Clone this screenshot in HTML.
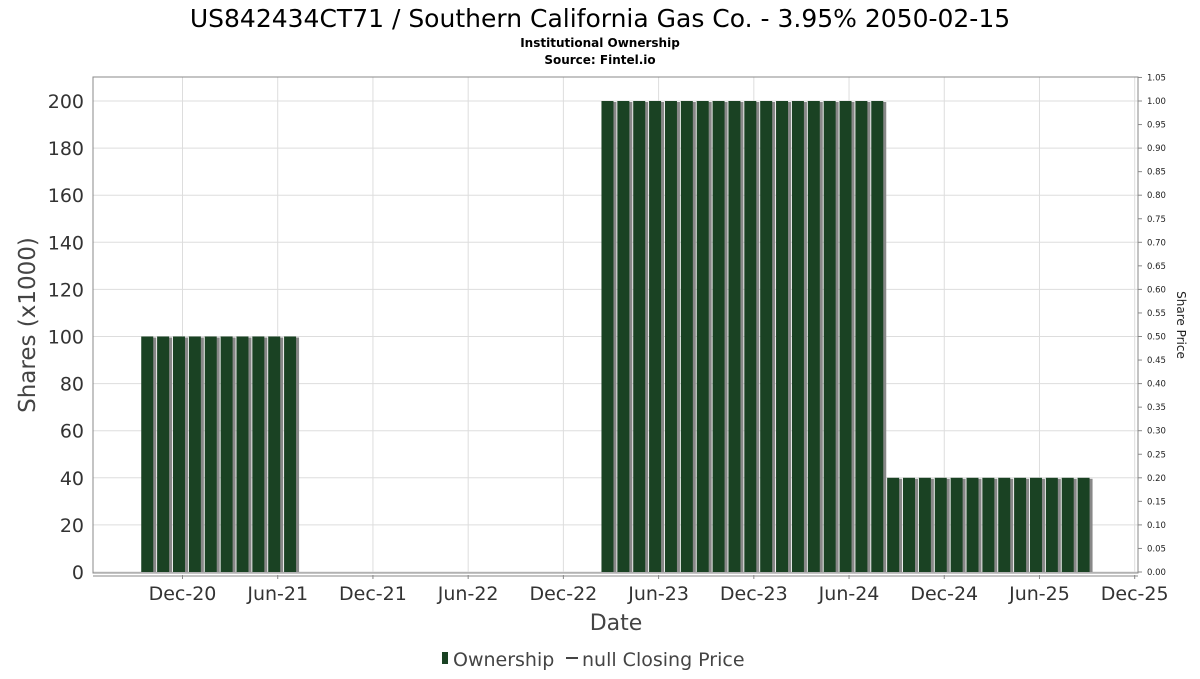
<!DOCTYPE html>
<html><head><meta charset="utf-8"><style>
body{margin:0;background:#fff;font-family:"DejaVu Sans","Liberation Sans",sans-serif}
</style></head><body>
<svg id="chart" width="1200" height="675" xmlns="http://www.w3.org/2000/svg" font-family="DejaVu Sans, Liberation Sans, sans-serif">
<text x="600" y="27" text-anchor="middle" font-size="25" fill="#000">US842434CT71 / Southern California Gas Co. - 3.95% 2050-02-15</text>
<text x="600" y="47" text-anchor="middle" font-size="12" font-weight="bold">Institutional Ownership</text>
<text x="600" y="64" text-anchor="middle" font-size="12" font-weight="bold">Source: Fintel.io</text>
<g id="grid"></g>
<rect x="93" y="77" width="1045" height="496" fill="none" stroke="#888"/>
<g id="bars"></g>
<g id="axes"></g>
<text transform="translate(35,325) rotate(-90)" text-anchor="middle" font-size="23" fill="#444">Shares (x1000)</text>
<text transform="translate(1177,325) rotate(90)" text-anchor="middle" font-size="12" fill="#222">Share Price</text>
<text x="616" y="630" text-anchor="middle" font-size="22" fill="#444">Date</text>
<g>
<rect x="442" y="652" width="6" height="12" fill="#1a4223"/>
<text x="453" y="666" font-size="19" fill="#444">Ownership</text>
<line x1="566" y1="658" x2="578" y2="658" stroke="#444" stroke-width="2"/>
<text x="582" y="666" font-size="19" fill="#444">null Closing Price</text>
</g>
</svg>
<script>
const months = ["Oct-20","Nov-20","Dec-20","Jan-21","Feb-21","Mar-21","Apr-21","May-21","Jun-21","Jul-21","Aug-21","Sep-21","Oct-21","Nov-21","Dec-21","Jan-22","Feb-22","Mar-22","Apr-22","May-22","Jun-22","Jul-22","Aug-22","Sep-22","Oct-22","Nov-22","Dec-22","Jan-23","Feb-23","Mar-23","Apr-23","May-23","Jun-23","Jul-23","Aug-23","Sep-23","Oct-23","Nov-23","Dec-23","Jan-24","Feb-24","Mar-24","Apr-24","May-24","Jun-24","Jul-24","Aug-24","Sep-24","Oct-24","Nov-24","Dec-24","Jan-25","Feb-25","Mar-25","Apr-25","May-25","Jun-25","Jul-25","Aug-25","Sep-25"];
const shares = [100,100,100,100,100,100,100,100,100,100,0,0,0,0,0,0,0,0,0,0,0,0,0,0,0,0,0,0,0,200,200,200,200,200,200,200,200,200,200,200,200,200,200,200,200,200,200,40,40,40,40,40,40,40,40,40,40,40,40,40];
const yTicks = [0,20,40,60,80,100,120,140,160,180,200];
const y2Ticks = ["0.00","0.05","0.10","0.15","0.20","0.25","0.30","0.35","0.40","0.45","0.50","0.55","0.60","0.65","0.70","0.75","0.80","0.85","0.90","0.95","1.00","1.05"];
const xTickLabels = ["Dec-20","Jun-21","Dec-21","Jun-22","Dec-22","Jun-23","Dec-23","Jun-24","Dec-24","Jun-25","Dec-25"];
const NS="http://www.w3.org/2000/svg";
const monthPx=15.87, xOrigin=182.5; // x of Dec-20
function x(m){return xOrigin+m*monthPx;} // m = months since Dec-20
function y(v){return 572-v*(471/200);}
function y2(v){return 572-v*471;}
function mk(tag,attrs,parent){const e=document.createElementNS(NS,tag);for(const k in attrs)e.setAttribute(k,attrs[k]);parent.appendChild(e);return e;}
const grid=document.getElementById('grid'),bars=document.getElementById('bars'),axes=document.getElementById('axes');
yTicks.forEach(v=>{
  const l=mk('line',{x1:93,x2:1138,y1:y(v),y2:y(v),stroke:'#ddd'},grid);
  
  
  const t=mk('text',{x:84,y:y(v)+7,'text-anchor':'end','font-size':19,fill:'#333'},axes);
  
  
  t.textContent=v;
});
y2Ticks.forEach(s=>{
  const v=parseFloat(s);
  const tk=mk('line',{x1:1138,x2:1142,y1:y2(v),y2:y2(v),stroke:'#888'},axes);
  
  
  const t=mk('text',{x:1147,y:y2(v)+3,'font-size':8.5,fill:'#222'},axes);
  
  
  t.textContent=s;
});
xTickLabels.forEach((s,i)=>{
  const xv=x(i*6);
  const g=mk('line',{x1:xv,x2:xv,y1:77,y2:573,stroke:'#ddd'},grid);
  
  
  const tk=mk('line',{x1:xv,x2:xv,y1:575,y2:579,stroke:'#888'},axes);
  
  
  const t=mk('text',{x:xv,y:600,'text-anchor':'middle','font-size':19,fill:'#333'},axes);
  
  
  t.textContent=s;
});
const xa=mk('line',{x1:93,x2:1138,y1:576,y2:576,stroke:'#888'},axes);


shares.forEach((v,i)=>{
  if(!v)return;
  const m=i-2, left=x(m-0.6), top=y(v);
  const sh=mk('rect',{x:left+3,y:top+1,width:12,height:572-top-1,fill:'#888'},bars);
  
  
  const r=mk('rect',{x:left,y:top,width:12,height:572-top,fill:'#1a4223'},bars);
  
  
});
</script>
</body></html>
